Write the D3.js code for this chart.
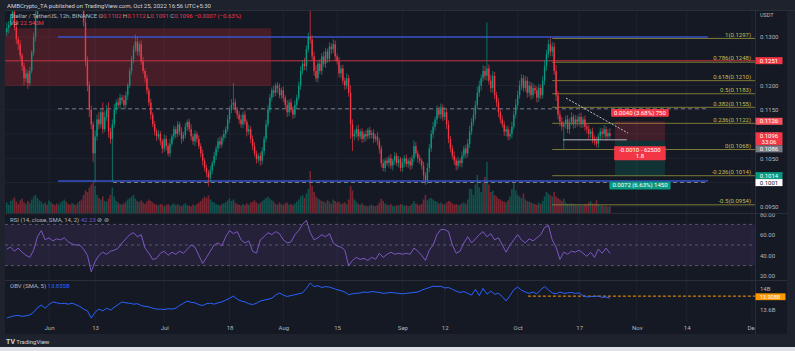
<!DOCTYPE html>
<html>
<head>
<meta charset="utf-8">
<script src="https://cdn.jsdelivr.net/npm/d3@7"></script>
<style>
html, body { margin: 0; padding: 0; background: #1e222d; }
svg { display: block; font-family: Roboto, "Liberation Sans", sans-serif; }
</style>
</head>
<body>
<svg id="chart" width="795" height="351"></svg>
<script>
// XLM/USDT 12h candles, May 21 -> Oct 25 2022 (prices in 1e-4 USDT)
const firstOpen = 1310;
const closes = [
  1318,1325,1340,1352,1320,1295,1285,1262,1240,1215,1225,1205,1230,1268,1300,1345,1370,1385,
  1395,1410,1420,1400,1430,1445,1425,1410,1395,1405,1420,1440,1460,1450,1430,1410,1420,1400,1385,1395,1380,1372,
  1330,1250,1200,1150,1120,1060,1095,1130,1120,1145,1110,1135,1150,1105,1090,1120,1150,1165,1160,1175,
  1170,1160,1180,1200,1230,1255,1275,1290,1270,1285,1250,1230,1215,1190,1165,1140,1120,1105,1095,
  1100,1085,1070,1090,1075,1060,1080,1095,1110,1100,1120,1105,1090,1098,1115,1125,1110,1095,1085,1100,1090,1075,
  1060,1045,1030,1020,1010,1025,1040,1055,1070,1085,1078,1092,1100,1110,1130,1150,1160,1165,1150,1140,
  1130,1120,1140,1125,1105,1110,1090,1075,1060,1048,1055,1045,1065,1090,1120,1150,
  1175,1190,1185,1200,1195,1180,1190,1175,1160,1145,1165,1150,1140,1160,1175,1200,1230,1245,1240,1275,
  1300,1295,1260,1230,1215,1245,1230,1260,1245,1270,1255,1280,1275,1285,1260,1250,1225,1235,1210,1200,1215,1185,1120,1095,
  1100,1110,1095,1105,1090,1100,1095,1108,1098,1102,1090,1095,1085,1070,1040,1030,1045,1040,1050,1035,
  1045,1055,1040,1048,1030,1042,1050,1038,1045,1035,1050,1075,1060,1050,1045,1035,1015,1005,1030,1070,
  1100,1115,1130,1150,1140,1155,1135,1145,1120,1090,1070,1055,1045,1035,1045,1040,1055,1070,1060,1080,
  1105,1125,1140,1160,1185,1200,1215,1230,1220,1235,1210,1195,1220,1180,1165,1145,1130,1120,1105,1110,
  1095,1100,1115,1140,1160,1180,1200,1215,1195,1210,1185,1200,1180,1195,1190,1175,1195,1180,1210,1240,
  1265,1285,1270,1280,1230,1180,1140,1125,1115,1120,1130,1110,1125,1135,1120,1130,1125,1135,1120,1130,
  1115,1110,1100,1105,1090,1085,1080,1095,1105,1100,1110,1095,1102,1096
];
const wickUp = [
  12,8,6,5,10,15,6,8,5,7,10,6,8,5,9,12,6,8,
  6,9,5,8,10,6,7,5,8,6,9,10,5,7,6,8,5,9,6,7,5,8,
  12,15,10,8,9,6,12,10,15,8,20,12,10,15,8,10,12,6,9,8,
  6,10,8,5,7,6,8,15,10,6,8,9,5,7,6,8,5,7,6,
  8,6,5,9,7,6,10,5,8,6,7,5,9,6,8,5,7,10,6,8,5,7,
  6,8,5,7,6,9,5,8,6,7,10,5,8,6,9,7,12,40,8,6,
  7,10,6,8,5,9,6,7,8,6,5,7,8,6,9,10,
  8,6,10,5,7,9,6,8,5,10,6,8,7,9,6,8,10,7,12,8,9,60,8,10,12,6,9,7,10,8,6,9,7,10,8,6,9,7,8,6,10,7,15,10,
  8,6,9,5,7,6,8,5,7,6,8,5,9,7,6,8,5,7,6,9,5,8,6,7,5,9,6,8,5,7,6,12,8,6,7,5,8,6,10,9,
  8,10,6,9,7,8,6,10,7,8,6,7,9,6,8,5,9,6,8,10,12,8,10,9,12,10,8,12,10,95,8,12,10,8,7,9,6,8,7,6,
  7,9,10,8,12,9,10,8,7,10,8,9,7,10,6,8,9,7,10,12,9,10,13,10,8,12,9,8,10,7,8,9,7,10,6,9,8,7,9,6,
  8,7,9,6,8,7,9,6,8,7,9,6,8,10
];
const wickDn = [
  8,10,5,7,6,9,12,8,10,15,8,12,6,5,7,9,8,6,
  7,5,9,6,8,10,6,7,5,8,6,9,7,10,6,8,7,5,9,6,8,10,
  8,10,12,15,10,18,60,8,10,7,9,6,8,12,10,88,7,9,6,8,
  7,6,8,10,5,7,9,6,8,10,7,6,9,8,7,10,6,8,9,
  6,8,10,7,9,6,8,5,7,9,6,8,10,5,7,9,6,8,7,10,8,6,
  8,10,7,9,18,10,8,6,9,7,8,6,7,9,6,8,7,9,6,8,
  9,7,8,6,10,7,9,8,6,9,7,10,8,9,7,6,
  6,8,9,7,10,6,8,9,7,10,8,6,9,7,8,6,9,7,8,10,7,9,8,10,7,9,6,8,7,9,8,7,10,8,9,7,8,10,8,9,7,8,30,30,
  8,7,9,6,8,7,10,6,8,7,9,6,8,10,9,7,8,6,9,7,10,8,6,9,7,8,10,6,8,9,7,8,6,9,7,8,10,10,8,9,
  7,9,8,10,7,9,8,6,10,9,8,7,9,10,8,7,9,6,10,8,9,7,8,10,9,8,10,7,9,10,8,9,10,8,9,10,8,7,9,10,
  8,7,9,6,8,10,7,9,8,7,10,8,9,7,8,10,9,8,7,9,10,8,9,10,8,12,10,9,8,47,9,8,10,7,9,8,10,9,8,7,
  8,9,10,8,9,8,7,9,8,10,8,9,7,5
];
// volume per 12h candle, millions
const volumes = [
  35,28,40,45,52,38,30,42,48,36,30,40,33,45,55,60,50,42,
  38,30,35,28,42,36,30,26,32,28,35,40,45,38,30,28,33,30,26,34,40,45,
  60,75,70,85,95,105,90,60,50,45,55,40,38,48,60,85,55,40,35,30,
  28,32,38,45,50,55,60,48,40,36,42,35,30,38,45,40,35,30,28,
  25,30,28,22,26,30,24,28,32,26,30,25,22,28,32,26,24,22,28,25,30,35,
  40,48,55,50,58,45,38,35,30,28,25,30,32,36,42,48,40,45,35,30,
  28,25,30,26,32,28,35,38,42,36,30,34,40,45,50,55,
  48,42,38,30,28,35,30,26,32,35,28,30,26,32,38,45,55,60,50,65,80,140,90,70,55,48,45,40,38,35,42,38,30,45,40,35,38,30,32,35,30,45,90,75,
  45,38,30,28,32,26,24,22,25,28,24,22,26,35,48,40,32,28,26,30,24,22,26,25,30,28,24,26,22,25,30,40,32,28,26,30,45,60,42,48,
  50,45,40,38,32,35,30,28,35,40,38,32,28,30,26,28,32,35,30,45,80,80,60,95,127,85,70,100,120,170,95,70,75,60,55,48,45,40,38,35,
  42,55,80,100,75,60,55,50,65,45,40,38,35,32,30,28,35,30,40,55,70,65,60,55,70,55,50,45,40,48,35,30,28,32,26,30,25,28,24,26,
  30,28,35,40,32,30,42,28,24,26,22,25,20,22.5
];
const rsiDaily = [
  46,48,44,47,43,40,38,45,58,64, 55,57,54,56,55,57,53,51,50,50,
  46,40,24,34,40,43,41,44,45,47, 52,56,60,62,58,60,47,42,36,37,
  42,44,40,43,41,44,42,46,50,48, 40,32,38,44,50,52,49,58,64,61,
  63,55,52,54,44,42,55,58,62,60, 63,61,55,52,53,60,64,70,74,62,
  55,57,60,58,61,52,49,48,45,30, 35,38,36,37,35,38,36,42,38,41,
  43,41,42,41,42,41,47,44,40,35, 45,50,60,65,65,63,50,42,44,52,
  58,52,56,60,63,58,61,55,57,50, 43,50,55,60,55,52,56,54,57,60,
  67,69,55,48,36,43,41,44,43,45, 42,39,43,38,46,42,47,42
];
const obvDaily = [
  13.42,13.45,13.47,13.48,13.46,13.47,13.49,13.55,13.65,13.71,
  13.64,13.72,13.78,13.76,13.74,13.75,13.73,13.75,13.72,13.68,
  13.62,13.58,13.42,13.55,13.62,13.58,13.64,13.60,13.66,13.72,
  13.78,13.76,13.75,13.73,13.74,13.70,13.68,13.67,13.64,13.62,
  13.62,13.61,13.63,13.62,13.64,13.70,13.75,13.80,13.77,13.76,
  13.72,13.70,13.74,13.75,13.73,13.76,13.78,13.82,13.86,13.91,
  13.84,13.80,13.78,13.74,13.72,13.75,13.80,13.82,13.84,13.86,
  13.93,13.98,13.93,13.90,13.92,13.94,13.96,13.98,14.08,14.20,
  14.12,14.14,14.10,14.12,14.11,14.08,14.05,14.03,14.00,13.94,
  13.96,13.97,13.98,14.00,13.99,14.01,14.00,13.99,13.97,13.98,
  13.99,13.98,13.97,13.96,13.97,13.98,13.99,14.00,14.04,14.07,
  14.10,14.13,14.12,14.13,14.09,14.10,14.06,14.02,13.99,14.01,
  13.97,13.93,14.06,13.92,14.08,13.95,14.02,13.95,13.97,13.90,
  13.80,13.92,14.05,14.11,14.04,14.00,13.97,14.00,13.96,14.05,
  14.12,14.05,13.98,13.96,14.00,13.97,13.98,13.99,13.97,13.98,
  13.92,13.89,13.90,13.90,13.91,13.88,13.89,13.86
];

// axis ticks
const timeTicks = ["2022-06-01","2022-06-13","2022-07-01","2022-07-18","2022-08-01","2022-08-15","2022-09-01",
  "2022-09-12","2022-10-01","2022-10-17","2022-11-01","2022-11-14","2022-12-01"];
const timeLabels = ["Jun","13","Jul","18","Aug","15","Sep","12","Oct","17","Nov","14","Dec"];
const priceTicks = [0.130, 0.125, 0.120, 0.115, 0.110, 0.105, 0.100, 0.095];
const rsiTicks = [80, 60, 40, 20];
const obvTicks = [14, 13.6];
const obvTickLabels = ["14B", "13.6B"];

// drawings
const fibLevels = ["1", "0.786", "0.618", "0.5", "0.382", "0.236", "0", "-0.236", "-0.5"];
const fibPrices = [0.1297, 0.1248, 0.1210, 0.1183, 0.1155, 0.1122, 0.1068, 0.1014, 0.0954];
const fibStart = "2022-10-10T00:00Z";
const redZone = { from: "2022-05-20T12:00Z", to: "2022-07-28T20:00Z", top: 0.1318, bottom: 0.1199 };
const blueLines = [0.1300, 0.1003];
const dashedLines = [{ p: 0.1152, from: "2022-06-03T08:00Z" }, { p: 0.1000, from: "2022-06-17T16:00Z" }];
const lineFrom = "2022-06-03T08:00Z", lineTo = "2022-11-19T12:00Z";
const redLevel = 0.1251;
const trendLine = [{ t: "2022-10-13T14:00Z", p: 0.1174 }, { t: "2022-10-29T17:00Z", p: 0.1102 }];
const supportLine = [{ t: "2022-10-12T19:00Z", p: 0.1088 }, { t: "2022-10-29T10:00Z", p: 0.1088 }];
const position = { from: "2022-10-26T08:00Z", to: "2022-11-08T08:00Z", stop: 0.1126, entry: 0.1086, target: 0.1014 };
const positionTexts = { stop: ["0.0040 (3.68%) 750"], mid: ["-0.0010 - 62500", "1.8"], target: ["0.0072 (6.63%) 1450"] };
const obvLevel = { from: "2022-10-03T16:00Z", v: 13.908, text: "13.908B" };
const priceLabels = [
  { p: 0.1251, lines: ["0.1251"], bg: "#f23645", fg: "#ffffff" },
  { p: 0.1126, lines: ["0.1126"], bg: "#f7525f", fg: "#ffffff" },
  { p: 0.1096, lines: ["0.1096", "33:06"], bg: "#f23645", fg: "#ffffff" },
  { p: 0.1086, lines: ["0.1086"], bg: "#787b86", fg: "#ffffff" },
  { p: 0.1014, lines: ["0.1014"], bg: "#089981", fg: "#ffffff" },
  { p: 0.1001, lines: ["0.1001"], bg: "#ffffff", fg: "#131722" }
];
const legendOHLC = [["O", "0.1102"], ["H", "0.1112"], ["L", "0.1091"], ["C", "0.1096"]];
const legendChange = "\u22120.0007 (\u22120.63%)";

const W = 795, H = 351;
const upCol = "#089981", downCol = "#f23645";
const txtCol = "#b2b5be", gridCol = "#1f2330";
const HALF = 12 * 3600 * 1000;
const t0 = Date.UTC(2022, 4, 21);

const candles = [];
let prev = firstOpen;
closes.forEach((c, i) => {
  const o = prev;
  candles.push({
    t: new Date(t0 + i * HALF),
    o: o / 1e4, c: c / 1e4,
    h: (Math.max(o, c) + wickUp[i]) / 1e4,
    l: (Math.min(o, c) - wickDn[i]) / 1e4,
    v: volumes[i]
  });
  prev = c;
});
const rsiData = rsiDaily.map((v, d) => ({ t: new Date(t0 + d * 2 * HALF), v }));
const obvData = obvDaily.map((v, d) => ({ t: new Date(t0 + d * 2 * HALF), v }));

// scales
const x = d3.scaleUtc().domain([new Date("2022-06-01T00:00Z"), new Date("2022-12-01T00:00Z")]).range([49, 752]);
const y = d3.scaleLinear().domain([0.095, 0.13]).range([206.75, 37]);
const yVol = d3.scaleLinear().domain([0, 170]).range([213, 162]);
const yRsi = d3.scaleLinear().domain([20, 80]).range([275.9, 214.1]);
const yObv = d3.scaleLinear().domain([13.6, 14]).range([310, 292]);
const T = s => new Date(s);

const svg = d3.select("#chart");

// frame and panes
svg.append("rect").attr("width", W).attr("height", H).attr("fill", "#1e222d");
svg.append("rect").attr("x", 5).attr("y", 11).attr("width", 782).attr("height", 323).attr("fill", "#151924");
svg.append("rect").attr("x", 0).attr("y", 347).attr("width", W).attr("height", 4).attr("fill", "#dfe1e6");

const defs = svg.append("defs");
function clip(id, x0, y0, w, h) {
  defs.append("clipPath").attr("id", id).append("rect").attr("x", x0).attr("y", y0).attr("width", w).attr("height", h);
}
clip("cMain", 5, 11, 750, 202);
clip("cRsi", 5, 214, 750, 66);
clip("cObv", 5, 281, 750, 41);
clip("cTime", 5, 322, 750, 12);
clip("cRsiAxis", 755, 213.5, 32, 67);

// grid
svg.append("g").selectAll("line").data(timeTicks).join("line")
  .attr("x1", d => x(T(d))).attr("x2", d => x(T(d)))
  .attr("y1", 11).attr("y2", 322).attr("stroke", gridCol).attr("stroke-width", 1);
svg.append("g").selectAll("line").data(priceTicks).join("line")
  .attr("x1", 5).attr("x2", 755).attr("y1", d => y(d)).attr("y2", d => y(d))
  .attr("stroke", gridCol);

// RSI band
svg.append("rect").attr("x", 5).attr("width", 750)
  .attr("y", yRsi(70)).attr("height", yRsi(30) - yRsi(70))
  .attr("fill", "rgba(126,87,194,0.14)");
svg.append("g").selectAll("line").data([70, 50, 30]).join("line")
  .attr("x1", 5).attr("x2", 755).attr("y1", d => yRsi(d)).attr("y2", d => yRsi(d))
  .attr("stroke", "#787b86").attr("stroke-opacity", 0.6).attr("stroke-dasharray", "3,3");

// main pane
const gMain = svg.append("g").attr("clip-path", "url(#cMain)");

gMain.append("rect")
  .attr("x", x(T(redZone.from))).attr("width", x(T(redZone.to)) - x(T(redZone.from)))
  .attr("y", y(redZone.top)).attr("height", y(redZone.bottom) - y(redZone.top))
  .attr("fill", "rgba(178,40,51,0.32)");

// volume
gMain.append("g").selectAll("rect").data(candles).join("rect")
  .attr("x", d => x(d.t) - 0.8).attr("width", 1.6)
  .attr("y", d => yVol(d.v)).attr("height", d => yVol(0) - yVol(d.v))
  .attr("fill", d => d.c >= d.o ? upCol : downCol).attr("fill-opacity", 0.45);

// horizontal levels
gMain.append("line").attr("x1", 5).attr("x2", 755).attr("y1", y(redLevel)).attr("y2", y(redLevel))
  .attr("stroke", "#c0303c").attr("stroke-width", 1);
gMain.append("g").selectAll("line").data(dashedLines).join("line")
  .attr("x1", d => x(T(d.from))).attr("x2", x(T(lineTo)))
  .attr("y1", d => y(d.p)).attr("y2", d => y(d.p))
  .attr("stroke", "#787b86").attr("stroke-width", 1).attr("stroke-dasharray", "4,3");
gMain.append("g").selectAll("line").data(blueLines).join("line")
  .attr("x1", x(T(lineFrom))).attr("x2", x(T(lineTo)))
  .attr("y1", d => y(d)).attr("y2", d => y(d))
  .attr("stroke", "#3552c8").attr("stroke-width", 1.4);

// fib retracement
const gFib = gMain.append("g");
gFib.selectAll("line").data(fibPrices).join("line")
  .attr("x1", x(T(fibStart))).attr("x2", 755)
  .attr("y1", d => y(d)).attr("y2", d => y(d))
  .attr("stroke", "#7d7936").attr("stroke-width", 1);
gFib.selectAll("text").data(fibPrices).join("text")
  .attr("x", 751).attr("y", d => y(d) - 1.8)
  .attr("text-anchor", "end").attr("font-size", 6).attr("fill", "#c4bd58")
  .text((d, i) => `${fibLevels[i]}(${d.toFixed(4)})`);

// position tool
const px0 = x(T(position.from)), px1 = x(T(position.to));
gMain.append("rect").attr("x", px0).attr("width", px1 - px0)
  .attr("y", y(position.stop)).attr("height", y(position.entry) - y(position.stop))
  .attr("fill", "rgba(242,54,69,0.2)");
gMain.append("rect").attr("x", px0).attr("width", px1 - px0)
  .attr("y", y(position.entry)).attr("height", y(position.target) - y(position.entry))
  .attr("fill", "rgba(8,153,129,0.2)");

// candles
const gC = gMain.append("g");
gC.selectAll("line").data(candles).join("line")
  .attr("x1", d => x(d.t)).attr("x2", d => x(d.t))
  .attr("y1", d => y(d.h)).attr("y2", d => y(d.l))
  .attr("stroke", d => d.c >= d.o ? upCol : downCol).attr("stroke-width", 0.7);
gC.selectAll("rect").data(candles).join("rect")
  .attr("x", d => x(d.t) - 0.7).attr("width", 1.4)
  .attr("y", d => y(Math.max(d.o, d.c)))
  .attr("height", d => Math.max(0.8, Math.abs(y(d.o) - y(d.c))))
  .attr("fill", d => d.c >= d.o ? upCol : downCol);

// trend + support lines
gMain.append("line")
  .attr("x1", x(T(trendLine[0].t))).attr("y1", y(trendLine[0].p))
  .attr("x2", x(T(trendLine[1].t))).attr("y2", y(trendLine[1].p))
  .attr("stroke", "#d1d4dc").attr("stroke-width", 0.9).attr("stroke-dasharray", "2,1.5");
gMain.append("line")
  .attr("x1", x(T(supportLine[0].t))).attr("y1", y(supportLine[0].p))
  .attr("x2", x(T(supportLine[1].t))).attr("y2", y(supportLine[1].p))
  .attr("stroke", "#b2b5be").attr("stroke-width", 1);

// labelled pills
function pill(g, cx, cy, lines, bg, fg, padX) {
  const lh = 6.2;
  const h = lines.length * lh + 1.6;
  const rect = g.append("rect");
  const t = g.append("text").attr("font-size", 6).attr("fill", fg).attr("text-anchor", "middle");
  lines.forEach((s, i) => {
    t.append("tspan").attr("x", cx).attr("y", cy - h / 2 + 0.8 + lh * (i + 1) - 1.3).text(s);
  });
  const w = d3.max(t.selectAll("tspan").nodes(), n => n.getComputedTextLength()) + padX * 2;
  rect.attr("x", cx - w / 2).attr("y", cy - h / 2).attr("width", w).attr("height", h).attr("fill", bg).attr("rx", 1);
  return h;
}
const pMid = (px0 + px1) / 2;
const gPos = svg.append("g");
pill(gPos, pMid, y(position.stop) - 8.5, positionTexts.stop, "#f23645", "#ffffff", 3);
pill(gPos, pMid, y(position.entry) + 12.5, positionTexts.mid, "#f23645", "#ffffff", 5);
pill(gPos, pMid, y(position.target) + 9.8, positionTexts.target, "#089981", "#ffffff", 3);

// RSI + OBV lines
svg.append("path").datum(rsiData).attr("clip-path", "url(#cRsi)")
  .attr("d", d3.line().x(d => x(d.t)).y(d => yRsi(d.v)))
  .attr("fill", "none").attr("stroke", "#7e57c2").attr("stroke-width", 1);
svg.append("line").attr("x1", x(T(obvLevel.from))).attr("x2", 755)
  .attr("y1", yObv(obvLevel.v)).attr("y2", yObv(obvLevel.v))
  .attr("stroke", "#ff9800").attr("stroke-width", 1).attr("stroke-dasharray", "3,2");
svg.append("path").datum(obvData).attr("clip-path", "url(#cObv)")
  .attr("d", d3.line().x(d => x(d.t)).y(d => yObv(d.v)))
  .attr("fill", "none").attr("stroke", "#2962ff").attr("stroke-width", 1);

// separators
svg.append("g").selectAll("line").data([213.5, 280.5]).join("line")
  .attr("x1", 5).attr("x2", 787).attr("y1", d => d).attr("y2", d => d)
  .attr("stroke", "#2a2e39");
svg.append("line").attr("x1", 755.5).attr("x2", 755.5).attr("y1", 11).attr("y2", 334).attr("stroke", "#2a2e39");
svg.append("line").attr("x1", 5).attr("x2", 795).attr("y1", 10.5).attr("y2", 10.5).attr("stroke", "#2a2e39");

// axes
function styleAxis(g) {
  g.select(".domain").remove();
  g.selectAll(".tick line").remove();
  g.selectAll("text").attr("fill", txtCol).attr("font-size", 6).attr("font-family", "Roboto, 'Liberation Sans', sans-serif");
}
svg.append("g").attr("clip-path", "url(#cTime)").append("g").attr("transform", "translate(0,323)")
  .call(d3.axisBottom(x).tickValues(timeTicks.map(T)).tickFormat((d, i) => timeLabels[i]).tickSize(0).tickPadding(3))
  .call(styleAxis);
svg.append("g").attr("transform", "translate(755,0)")
  .call(d3.axisRight(y).tickValues(priceTicks).tickFormat(d3.format(".4f")).tickSize(0).tickPadding(5))
  .call(styleAxis);
svg.append("g").attr("clip-path", "url(#cRsiAxis)").append("g").attr("transform", "translate(755,0)")
  .call(d3.axisRight(yRsi).tickValues(rsiTicks).tickFormat(d3.format(".2f")).tickSize(0).tickPadding(5))
  .call(styleAxis);
svg.append("g").attr("transform", "translate(755,0)")
  .call(d3.axisRight(yObv).tickValues(obvTicks).tickFormat((d, i) => obvTickLabels[i]).tickSize(0).tickPadding(5))
  .call(styleAxis)
  .call(g => g.selectAll(".tick text").filter(d => d === 14).attr("dy", "-0.25em"));
svg.append("text").attr("x", 760).attr("y", 17).attr("font-size", 5.5).attr("fill", txtCol).text("USDT");

// price labels on the axis, pushed down when they collide
let bottomEdge = -Infinity;
priceLabels.forEach(l => {
  const h = l.lines.length * 6 + 1;
  const top = Math.max(y(l.p) - 3.6, bottomEdge);
  bottomEdge = top + h;
  svg.append("rect").attr("x", 755.5).attr("y", top).attr("width", 27).attr("height", h).attr("fill", l.bg);
  l.lines.forEach((s, i) => {
    svg.append("text").attr("x", 769).attr("y", top + 5.6 + i * 6)
      .attr("text-anchor", "middle").attr("font-size", 6).attr("fill", l.fg).text(s);
  });
});
svg.append("rect").attr("x", 755.5).attr("y", yObv(obvLevel.v) - 2.8).attr("width", 30).attr("height", 6.8).attr("fill", "#ff9800");
svg.append("text").attr("x", 770).attr("y", yObv(obvLevel.v) + 2.6).attr("text-anchor", "middle")
  .attr("font-size", 5.6).attr("fill", "#ffffff").text(obvLevel.text);

// header, legends, footer
svg.append("text").attr("x", 7).attr("y", 7.5).attr("font-size", 6).attr("fill", "#d1d4dc")
  .text("AMBCrypto_TA published on TradingView.com, Oct 25, 2022 16:56 UTC+5:30");

const lg = svg.append("text").attr("x", 10).attr("y", 18).attr("font-size", 6).attr("fill", txtCol);
lg.append("tspan").text("Stellar / TetherUS, 12h, BINANCE ");
legendOHLC.forEach(([k, v]) => {
  lg.append("tspan").attr("fill", txtCol).text(" " + k);
  lg.append("tspan").attr("fill", downCol).text(v);
});
lg.append("tspan").attr("fill", downCol).text(" " + legendChange);
const lv = svg.append("text").attr("x", 10).attr("y", 25).attr("font-size", 6).attr("fill", txtCol);
lv.append("tspan").text("Vol ");
lv.append("tspan").attr("fill", downCol).text("22.543M");

const lr = svg.append("text").attr("x", 10).attr("y", 221.5).attr("font-size", 6).attr("fill", txtCol);
lr.append("tspan").text("RSI (14, close, SMA, 14, 2) ");
lr.append("tspan").attr("fill", "#7e57c2").text("42.23");
lr.append("tspan").text(" \u2298 \u2298");
const lo = svg.append("text").attr("x", 10).attr("y", 287.5).attr("font-size", 6).attr("fill", txtCol);
lo.append("tspan").text("OBV (SMA, 5) ");
lo.append("tspan").attr("fill", "#2962ff").text("13.855B");

const ft = svg.append("text").attr("x", 6).attr("y", 344).attr("font-size", 6).attr("fill", "#d1d4dc");
ft.append("tspan").attr("font-weight", "bold").attr("font-size", 7).text("TV");
ft.append("tspan").text(" TradingView");
</script>
</body>
</html>
